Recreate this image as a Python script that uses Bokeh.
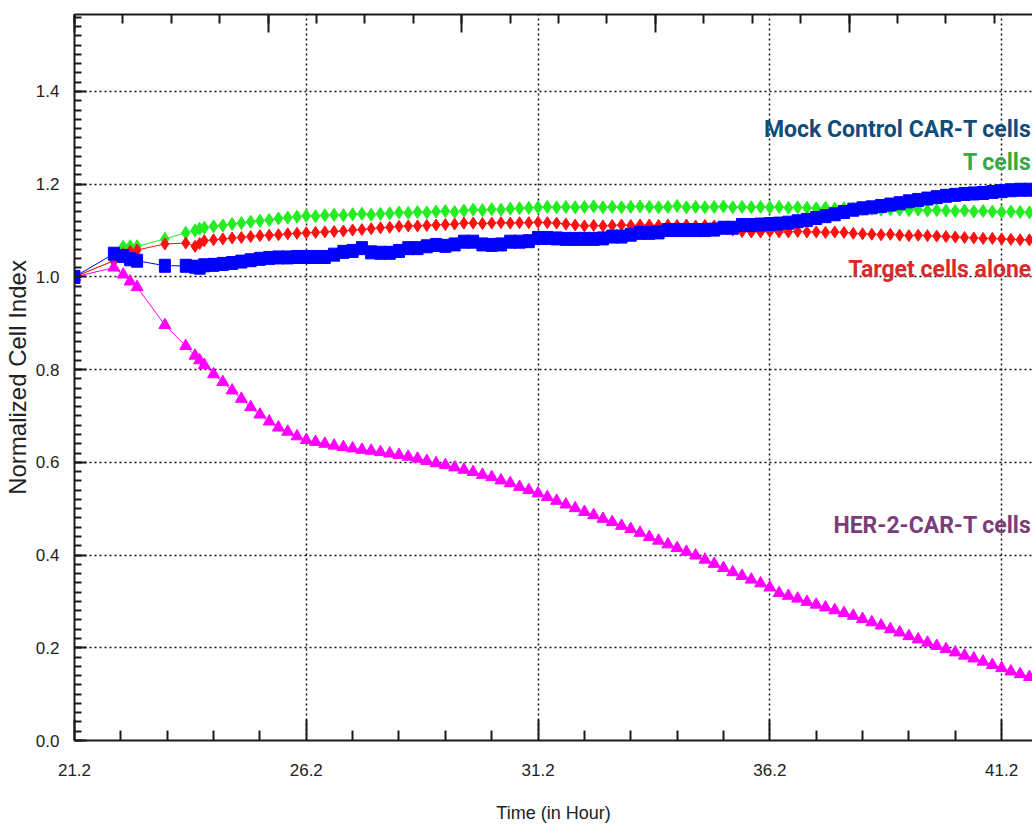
from bokeh.plotting import figure
from bokeh.models import (Range1d, FixedTicker, LinearAxis, Label,
                          PrintfTickFormatter, SingleIntervalTicker,
                          CustomJSTickFormatter)
from bokeh.embed import file_html
from bokeh.resources import INLINE

# ---------------- data ----------------
time_h = [21.2, 22.05, 22.25, 22.4, 22.55, 23.15, 23.6, 23.8, 23.9,
          24.0, 24.2, 24.4, 24.6, 24.8, 25.0, 25.2, 25.4, 25.6, 25.8,
          26.0, 26.2, 26.4, 26.6, 26.8, 27.0, 27.2, 27.4, 27.6, 27.8,
          28.0, 28.2, 28.4, 28.6, 28.8, 29.0, 29.2, 29.4, 29.6, 29.8,
          30.0, 30.2, 30.4, 30.6, 30.8, 31.0, 31.2, 31.4, 31.6, 31.8,
          32.0, 32.2, 32.4, 32.6, 32.8, 33.0, 33.2, 33.4, 33.6, 33.8,
          34.0, 34.2, 34.4, 34.6, 34.8, 35.0, 35.2, 35.4, 35.6, 35.8,
          36.0, 36.2, 36.4, 36.6, 36.8, 37.0, 37.2, 37.4, 37.6, 37.8,
          38.0, 38.2, 38.4, 38.6, 38.8, 39.0, 39.2, 39.4, 39.6, 39.8,
          40.0, 40.2, 40.4, 40.6, 40.8, 41.0, 41.2, 41.4, 41.6, 41.8]

t_cells = [1.0, 1.035, 1.065, 1.066, 1.066, 1.082, 1.095, 1.100, 1.104,
           1.106, 1.109, 1.111, 1.114, 1.116, 1.119, 1.121, 1.123, 1.126, 1.128,
           1.130, 1.132, 1.131, 1.133, 1.134, 1.133, 1.135, 1.136, 1.134, 1.136,
           1.137, 1.139, 1.138, 1.140, 1.139, 1.141, 1.142, 1.140, 1.143, 1.145,
           1.144, 1.146, 1.145, 1.147, 1.148, 1.149, 1.150, 1.151, 1.150, 1.151,
           1.150, 1.151, 1.152, 1.150, 1.151, 1.150, 1.151, 1.152, 1.151, 1.150,
           1.151, 1.153, 1.150, 1.151, 1.150, 1.151, 1.152, 1.150, 1.151, 1.150,
           1.151, 1.150, 1.151, 1.149, 1.150, 1.149, 1.148, 1.149, 1.147, 1.148,
           1.147, 1.146, 1.147, 1.145, 1.146, 1.145, 1.144, 1.145, 1.143, 1.144,
           1.143, 1.142, 1.143, 1.141, 1.142, 1.141, 1.140, 1.141, 1.140, 1.139]

target_alone = [1.0, 1.035, 1.050, 1.055, 1.058, 1.071, 1.073, 1.066, 1.072,
                1.078, 1.080, 1.082, 1.084, 1.085, 1.087, 1.089, 1.090, 1.091, 1.093,
                1.094, 1.095, 1.096, 1.097, 1.098, 1.099, 1.101, 1.102, 1.104, 1.106,
                1.107, 1.109, 1.110, 1.110, 1.111, 1.112, 1.113, 1.114, 1.116, 1.116,
                1.115, 1.116, 1.117, 1.116, 1.117, 1.117, 1.118, 1.117, 1.116, 1.114,
                1.112, 1.110, 1.111, 1.110, 1.111, 1.112, 1.111, 1.112, 1.112, 1.111,
                1.112, 1.111, 1.112, 1.110, 1.111, 1.110, 1.106, 1.101, 1.098, 1.097,
                1.097, 1.098, 1.097, 1.097, 1.098, 1.097, 1.097, 1.096, 1.097, 1.096,
                1.094, 1.093, 1.092, 1.091, 1.092, 1.090, 1.089, 1.090, 1.089, 1.088,
                1.087, 1.086, 1.085, 1.084, 1.083, 1.083, 1.082, 1.081, 1.080, 1.080]

mock_car_t = [1.0, 1.050, 1.045, 1.038, 1.035, 1.024, 1.024, 1.022, 1.020,
              1.025, 1.026, 1.028, 1.030, 1.033, 1.036, 1.039, 1.041, 1.042, 1.042,
              1.043, 1.043, 1.043, 1.043, 1.048, 1.054, 1.056, 1.062, 1.053, 1.052,
              1.052, 1.056, 1.062, 1.062, 1.066, 1.069, 1.067, 1.070, 1.076, 1.076,
              1.070, 1.069, 1.070, 1.076, 1.076, 1.077, 1.084, 1.084, 1.083, 1.082,
              1.082, 1.082, 1.082, 1.083, 1.087, 1.087, 1.091, 1.095, 1.095, 1.096,
              1.101, 1.101, 1.101, 1.101, 1.101, 1.102, 1.106, 1.106, 1.112, 1.112,
              1.113, 1.114, 1.115, 1.117, 1.120, 1.123, 1.127, 1.131, 1.135, 1.140,
              1.145, 1.148, 1.150, 1.153, 1.156, 1.159, 1.163, 1.166, 1.169, 1.172,
              1.175, 1.177, 1.179, 1.180, 1.181, 1.183, 1.185, 1.187, 1.188, 1.188]

her2_car_t = [1.0, 1.020, 1.005, 0.990, 0.978, 0.896, 0.851, 0.830, 0.820,
              0.810, 0.790, 0.773, 0.755, 0.737, 0.719, 0.703, 0.688, 0.675, 0.666,
              0.656, 0.648, 0.644, 0.640, 0.636, 0.633, 0.630, 0.627, 0.625, 0.622,
              0.619, 0.616, 0.612, 0.608, 0.603, 0.598, 0.594, 0.589, 0.584, 0.579,
              0.573, 0.568, 0.561, 0.555, 0.547, 0.540, 0.533, 0.525, 0.517, 0.509,
              0.501, 0.493, 0.486, 0.478, 0.471, 0.463, 0.456, 0.448, 0.439, 0.431,
              0.423, 0.415, 0.407, 0.399, 0.390, 0.381, 0.372, 0.363, 0.355, 0.347,
              0.339, 0.330, 0.318, 0.312, 0.306, 0.299, 0.293, 0.287, 0.281, 0.275,
              0.269, 0.262, 0.255, 0.248, 0.240, 0.233, 0.225, 0.218, 0.211, 0.204,
              0.197, 0.190, 0.183, 0.177, 0.170, 0.163, 0.156, 0.149, 0.143, 0.137]

x_major_ticks = [21.2, 26.2, 31.2, 36.2, 41.2]
x_minor_ticks = [22.2, 23.2, 24.2, 25.2, 27.2, 28.2, 29.2, 30.2, 32.2, 33.2,
                 34.2, 35.2, 37.2, 38.2, 39.2, 40.2]

series_labels = ["Mock Control CAR-T cells", "T cells",
                 "Target cells alone", "HER-2-CAR-T cells"]
label_colors = ["#0f4c7a", "#36a844", "#d92a2e", "#7b3d78"]

# ---------------- figure ----------------
TICK_FONT = "Liberation Sans"
LABEL_FONT = "Roboto"

p = figure(width=1032, height=836,
           x_range=Range1d(21.2, 41.866), y_range=Range1d(0.0, 1.566),
           output_backend="svg", toolbar_location=None,
           min_border_left=70, min_border_right=0,
           min_border_top=14, min_border_bottom=96,
           x_axis_label="Time (in Hour)", y_axis_label="Normalized Cell Index")
p.outline_line_color = None
p.background_fill_color = "white"
p.border_fill_color = "white"

xt = FixedTicker(ticks=x_major_ticks, minor_ticks=x_minor_ticks)
yt = SingleIntervalTicker(interval=0.2, num_minor_ticks=10)

xa = p.xaxis[0]
xa.ticker = xt
xa.formatter = PrintfTickFormatter(format="%.1f")
xa.major_tick_in = 21
xa.major_tick_out = 0
xa.minor_tick_in = 10
xa.minor_tick_out = 0
xa.major_label_standoff = 23
xa.axis_label_standoff = 24

ya = p.yaxis[0]
ya.ticker = yt
ya.formatter = PrintfTickFormatter(format="%.1f")
ya.major_tick_in = 12
ya.major_tick_out = 0
ya.minor_tick_in = 7
ya.minor_tick_out = 0
ya.major_label_standoff = 15
ya.axis_label_standoff = 2

for ax in (xa, ya):
    ax.axis_line_width = 2
    ax.axis_line_color = "#1a1a1a"
    ax.major_tick_line_width = 2
    ax.major_tick_line_color = "#1a1a1a"
    ax.minor_tick_line_width = 2
    ax.minor_tick_line_color = "#1a1a1a"
    ax.major_label_text_font = TICK_FONT
    ax.major_label_text_font_size = "17px"
    ax.major_label_text_color = "#222222"
    ax.axis_label_text_font_style = "normal"
    ax.axis_label_text_color = "#222222"

xa.axis_label_text_font = TICK_FONT
xa.axis_label_text_font_size = "18px"
ya.axis_label_text_font = "Liberation Sans"
ya.axis_label_text_font_size = "24px"

# top frame axis (instrument's secondary scale, unlabeled)
p.extra_x_ranges = {"top": Range1d(0, 19.79)}
top = LinearAxis(x_range_name="top",
                 ticker=SingleIntervalTicker(interval=4, num_minor_ticks=4),
                 formatter=CustomJSTickFormatter(code="return ''"),
                 major_label_standoff=0,
                 major_tick_in=18, major_tick_out=0,
                 minor_tick_in=9, minor_tick_out=0,
                 axis_line_width=2, axis_line_color="#1a1a1a",
                 major_tick_line_width=2, minor_tick_line_width=2,
                 major_tick_line_color="#1a1a1a", minor_tick_line_color="#1a1a1a")
p.add_layout(top, "above")

p.xgrid.ticker = xt
p.ygrid.ticker = yt
for g in (p.xgrid, p.ygrid):
    g.grid_line_color = "#111111"
    g.grid_line_dash = "2 3"
    g.grid_line_width = 1.5

# ---------------- series ----------------
p.line(time_h, t_cells, line_color="#22ee22", line_width=1)
p.scatter(time_h, t_cells, marker="diamond", size=13, color="#22ee22")

p.line(time_h, target_alone, line_color="#ff1010", line_width=1)
p.scatter(time_h, target_alone, marker="diamond", size=12, color="#ff1010")

p.line(time_h, her2_car_t, line_color="#ff00ff", line_width=1)
p.scatter(time_h, her2_car_t, marker="triangle", size=12, color="#ff00ff")

p.line(time_h, mock_car_t, line_color="#0000ff", line_width=1)
p.rect(time_h, mock_car_t, width=11, height=13, width_units="screen",
       height_units="screen", color="#0000ff")

# ---------------- annotations ----------------
label_y = [1.317, 1.246, 1.015, 0.464]
for txt, col, yy in zip(series_labels, label_colors, label_y):
    p.add_layout(Label(x=41.84, y=yy, text=txt, text_align="right",
                       text_baseline="middle", text_color=col,
                       text_font=LABEL_FONT, text_font_style="bold",
                       text_font_size="23px"))

p.add_layout(Label(x=-13, y=717, x_units="screen", y_units="screen",
                   text="\u25BC", text_align="center",
                   text_baseline="middle", text_color="#111111",
                   text_font="DejaVu Sans", text_font_size="10px"))

open("out.html", "w").write(file_html(p, INLINE))
